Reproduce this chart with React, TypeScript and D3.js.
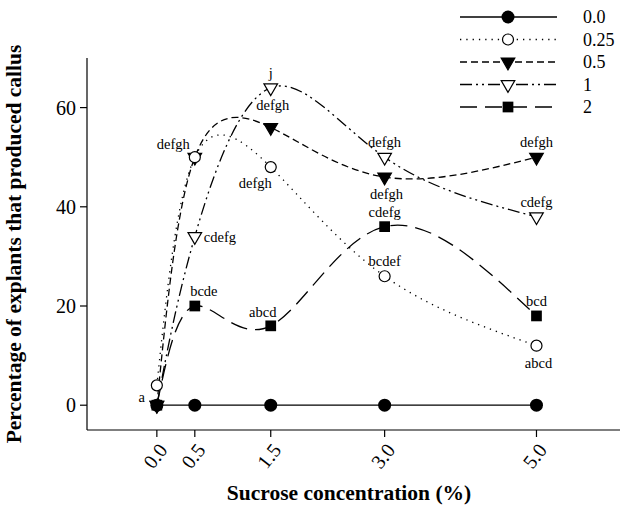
import { useEffect, useRef } from 'react'
import * as d3 from 'd3'

const sucrose = [0, 0.5, 1.5, 3.0, 5.0]
const seriesNames = ['0.0', '0.25', '0.5', '1', '2']
const s00 = [0, 0, 0, 0, 0]
const s025 = [4, 50, 48, 26, 12]
const s05 = [0, 50, 56, 46, 50]
const s1 = [0, 34, 64, 50, 38]
const s2 = [0, 20, 16, 36, 18]
const yTicks = [0, 20, 40, 60]

// significance letters, anchored on data values
const letters = [
  { x: 0, y: 0, text: 'a', pos: 'left' },
  { x: 0.5, y: 50, text: 'defgh', pos: 'upLeft' },
  { x: 0.5, y: 34, text: 'cdefg', pos: 'right' },
  { x: 0.5, y: 20, text: 'bcde', pos: 'aboveRight' },
  { x: 1.5, y: 64, text: 'j', pos: 'above' },
  { x: 1.5, y: 64, text: 'defgh', pos: 'below' },
  { x: 1.5, y: 48, text: 'defgh', pos: 'downLeft' },
  { x: 1.5, y: 16, text: 'abcd', pos: 'aboveLeft' },
  { x: 3, y: 50, text: 'defgh', pos: 'above' },
  { x: 3, y: 46, text: 'defgh', pos: 'below' },
  { x: 3, y: 36, text: 'cdefg', pos: 'above' },
  { x: 3, y: 26, text: 'bcdef', pos: 'above' },
  { x: 5, y: 50, text: 'defgh', pos: 'above' },
  { x: 5, y: 38, text: 'cdefg', pos: 'above' },
  { x: 5, y: 18, text: 'bcd', pos: 'above' },
  { x: 5, y: 12, text: 'abcd', pos: 'below' },
]

const FONT = '"Liberation Serif", "Times New Roman", serif'

const offsets: Record<string, { dx: number; dy: number; anchor: string }> = {
  above:      { dx: 0,   dy: -10, anchor: 'middle' },
  aboveLeft:  { dx: -8,  dy: -9,  anchor: 'middle' },
  aboveRight: { dx: 9,   dy: -10, anchor: 'middle' },
  below:      { dx: 2,   dy: 22,  anchor: 'middle' },
  left:       { dx: -12, dy: -3,  anchor: 'end' },
  upLeft:     { dx: -5,  dy: -8,  anchor: 'end' },
  right:      { dx: 9,   dy: 5,   anchor: 'start' },
  downLeft:   { dx: 1,   dy: 21,  anchor: 'end' },
}

type Marker = 'dot' | 'circle' | 'tri' | 'otri' | 'square'

export default function App() {
  const ref = useRef<SVGSVGElement>(null)

  useEffect(() => {
    if (!ref.current) return
    const el = ref.current
    const width = 625
    const height = 512

    d3.select(el).selectAll('*').remove()
    const svg = d3.select(el).attr('width', width).attr('height', height)

    const x = d3.scaleLinear().domain([-0.92, 6.1]).range([87, 620])
    const y = d3.scaleLinear().domain([-5, 70]).range([430, 58])

    const series = [
      { name: seriesNames[0], values: s00, dash: null, marker: 'dot' as Marker },
      { name: seriesNames[1], values: s025, dash: '1.3,5', marker: 'circle' as Marker },
      { name: seriesNames[2], values: s05, dash: '7,4', marker: 'tri' as Marker },
      { name: seriesNames[3], values: s1, dash: '12,4,2,4,2,4', marker: 'otri' as Marker },
      { name: seriesNames[4], values: s2, dash: '17,8', marker: 'square' as Marker },
    ]

    const drawMarker = (g: d3.Selection<SVGGElement, unknown, null, undefined>, m: Marker, cx: number, cy: number) => {
      if (m === 'dot') {
        g.append('circle').attr('cx', cx).attr('cy', cy).attr('r', 6.5).attr('fill', '#000')
      } else if (m === 'circle') {
        g.append('circle').attr('cx', cx).attr('cy', cy).attr('r', 5.5)
          .attr('fill', '#fff').attr('stroke', '#000').attr('stroke-width', 1.2)
      } else if (m === 'tri' || m === 'otri') {
        g.append('path')
          .attr('d', d3.symbol(d3.symbolTriangle, 80)()!)
          .attr('transform', `translate(${cx},${cy}) rotate(180)`)
          .attr('fill', m === 'tri' ? '#000' : '#fff')
          .attr('stroke', '#000').attr('stroke-width', 1.2)
      } else {
        g.append('path')
          .attr('d', d3.symbol(d3.symbolSquare, 115)()!)
          .attr('transform', `translate(${cx},${cy})`)
          .attr('fill', '#000')
      }
    }

    // axes frame
    const axisG = svg.append('g').attr('stroke', '#000').attr('stroke-width', 1.2)
    axisG.append('line').attr('x1', x(-0.92)).attr('x2', x(-0.92)).attr('y1', y(70)).attr('y2', y(-5))
    axisG.append('line').attr('x1', x(-0.92)).attr('x2', x(6.1)).attr('y1', y(-5)).attr('y2', y(-5))

    // y ticks
    const yAxis = svg.append('g')
    yTicks.forEach(t => {
      yAxis.append('line').attr('x1', x(-0.92) - 7).attr('x2', x(-0.92)).attr('y1', y(t)).attr('y2', y(t))
        .attr('stroke', '#000').attr('stroke-width', 1.2)
      yAxis.append('text').attr('x', x(-0.92) - 11).attr('y', y(t)).attr('dy', '0.35em')
        .attr('text-anchor', 'end').attr('font-family', FONT).attr('font-size', 20).text(t)
    })

    // x ticks
    const xAxis = svg.append('g')
    sucrose.forEach(t => {
      xAxis.append('line').attr('x1', x(t)).attr('x2', x(t)).attr('y1', y(-5)).attr('y2', y(-5) + 7)
        .attr('stroke', '#000').attr('stroke-width', 1.2)
      xAxis.append('text')
        .attr('transform', `translate(${x(t) + 6},${y(-5) + 16}) rotate(-52)`)
        .attr('text-anchor', 'end').attr('dy', '0.35em')
        .attr('font-family', FONT).attr('font-size', 20).text(d3.format('.1f')(t))
    })

    // titles
    svg.append('text')
      .attr('x', 349).attr('y', 500)
      .attr('text-anchor', 'middle').attr('font-family', FONT).attr('font-weight', 'bold')
      .attr('font-size', 21.5).text('Sucrose concentration (%)')
    svg.append('text')
      .attr('transform', `translate(21,${(y(70) + y(-5)) / 2}) rotate(-90)`)
      .attr('text-anchor', 'middle').attr('font-family', FONT).attr('font-weight', 'bold')
      .attr('font-size', 21.5).text('Percentage of explants that produced callus')

    // lines
    const line = d3.line<number>()
      .x((_, i) => x(sucrose[i]))
      .y(d => y(d))
      .curve(d3.curveNatural)

    const plot = svg.append('g')
    series.slice().reverse().forEach(s => {
      plot.append('path')
        .datum(s.values)
        .attr('fill', 'none')
        .attr('stroke', '#000')
        .attr('stroke-width', 1.3)
        .attr('stroke-dasharray', s.dash)
        .attr('d', line)
    })
    series.slice().reverse().forEach(s => {
      const g = plot.append('g')
      s.values.forEach((v, i) => drawMarker(g, s.marker, x(sucrose[i]), y(v)))
    })

    // letters
    const lab = svg.append('g').attr('font-family', FONT).attr('font-size', 14.5).attr('fill', '#000')
    letters.forEach(l => {
      const o = offsets[l.pos]
      lab.append('text')
        .attr('x', x(l.x) + o.dx).attr('y', y(l.y) + o.dy)
        .attr('text-anchor', o.anchor).text(l.text)
    })

    // legend
    const legend = svg.append('g')
    series.forEach((s, i) => {
      const ly = 17 + i * 22.5
      legend.append('line').attr('x1', 460).attr('x2', 557).attr('y1', ly).attr('y2', ly)
        .attr('stroke', '#000').attr('stroke-width', 1.3).attr('stroke-dasharray', s.dash)
      const g = legend.append('g')
      drawMarker(g, s.marker, 508, ly)
      legend.append('text').attr('x', 583).attr('y', ly).attr('dy', '0.35em')
        .attr('font-family', FONT).attr('font-size', 18).text(s.name)
    })
  }, [])

  return <svg ref={ref} style={{ position: 'absolute', left: 0, top: 0, display: 'block', background: '#fff' }} />
}
